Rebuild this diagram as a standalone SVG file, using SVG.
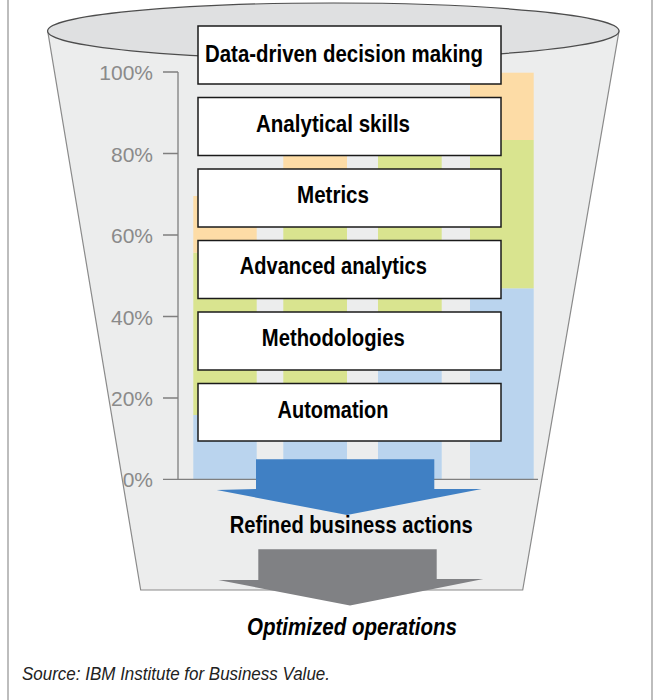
<svg xmlns="http://www.w3.org/2000/svg" width="655" height="700" viewBox="0 0 655 700">
<style>
.frame{stroke:#9a9a9a;stroke-width:1.3;fill:none}
.funnel{fill:#eceded;stroke:#8a8a8a;stroke-width:1.2}
.rim{fill:#dfe0e1;stroke:#4d4d4d;stroke-width:1.2}
.axis{stroke:#7f7f7f;stroke-width:1.3;fill:none}
.pct{font-family:"Liberation Sans",Arial,sans-serif;font-size:21px;fill:#8a8a8a;text-anchor:end}
.blue{fill:#bad4ee}
.green{fill:#d9e48f}
.orange{fill:#fddca6}
.box{fill:#ffffff;stroke:#1a1a1a;stroke-width:1.5}
.lbl{font-family:"Liberation Sans",Arial,sans-serif;font-weight:bold;font-size:23px;fill:#000;text-anchor:middle}
.src{font-family:"Liberation Sans",Arial,sans-serif;font-style:italic;font-size:19px;fill:#222}
</style>
<line class="frame" x1="8" y1="0" x2="8" y2="700"/>
<line class="frame" x1="652" y1="0" x2="652" y2="700"/>

<g id="funnel">
<polygon class="funnel" points="47.7,31 619,31 522.7,590 140.7,590"/>
<ellipse class="rim" cx="333.3" cy="31" rx="285.7" ry="28"/>
</g>

<g id="chart">
<rect class="blue" x="193.3" y="415" width="63.4" height="64.3"/>
<rect class="green" x="193.3" y="252.7" width="63.4" height="162.3"/>
<rect class="orange" x="193.3" y="196" width="63.4" height="56.7"/>
<rect class="blue" x="283.3" y="397.8" width="63.7" height="81.5"/>
<rect class="green" x="283.3" y="214.5" width="63.7" height="183.3"/>
<rect class="orange" x="283.3" y="155" width="63.7" height="59.5"/>
<rect class="blue" x="378" y="332.7" width="63.7" height="146.6"/>
<rect class="green" x="378" y="140" width="63.7" height="192.7"/>
<rect class="blue" x="470" y="288.3" width="63.7" height="191"/>
<rect class="green" x="470" y="140" width="63.7" height="148.3"/>
<rect class="orange" x="470" y="72.7" width="63.7" height="67.3"/>
<path class="axis" d="M178,72 V479.3 M163,479.3 H538 M163,72 H178 M163,153.5 H178 M163,235 H178 M163,316.5 H178 M163,398 H178"/>
<text class="pct" x="153" y="80">100%</text>
<text class="pct" x="153" y="161.5">80%</text>
<text class="pct" x="153" y="243">60%</text>
<text class="pct" x="153" y="324.5">40%</text>
<text class="pct" x="153" y="406">20%</text>
<text class="pct" x="153" y="487.3">0%</text>
</g>

<g id="n-data-driven">
<rect class="box" x="198" y="26" width="303" height="58"/>
<text class="lbl" x="344" y="62" textLength="278" lengthAdjust="spacingAndGlyphs">Data-driven decision making</text>
</g>
<g id="n-analytical-skills">
<rect class="box" x="198" y="97.5" width="303" height="58"/>
<text class="lbl" x="333" y="132" textLength="154" lengthAdjust="spacingAndGlyphs">Analytical skills</text>
</g>
<g id="n-metrics">
<rect class="box" x="198" y="169" width="303" height="58"/>
<text class="lbl" x="333" y="202.5" textLength="72" lengthAdjust="spacingAndGlyphs">Metrics</text>
</g>
<g id="n-advanced-analytics">
<rect class="box" x="198" y="240.5" width="303" height="58"/>
<text class="lbl" x="333.3" y="274" textLength="187" lengthAdjust="spacingAndGlyphs">Advanced analytics</text>
</g>
<g id="n-methodologies">
<rect class="box" x="198" y="312" width="303" height="58"/>
<text class="lbl" x="333.3" y="346" textLength="143" lengthAdjust="spacingAndGlyphs">Methodologies</text>
</g>
<g id="n-automation">
<rect class="box" x="198" y="383.5" width="303" height="57.5"/>
<text class="lbl" x="333" y="417.7" textLength="111" lengthAdjust="spacingAndGlyphs">Automation</text>
</g>

<g id="connectors">
<polygon fill="#4080c4" points="256,459.3 434.3,459.3 434.3,489 481.7,489 347,515 216.7,490 256,489"/>
<polygon fill="#808184" points="258.3,549.3 436.7,549.3 436.7,579 483.3,579 350,605.5 218.3,580 258.3,580"/>
</g>

<g id="n-refined">
<text class="lbl" x="351.3" y="533.3" textLength="243" lengthAdjust="spacingAndGlyphs">Refined business actions</text>
</g>
<g id="n-optimized">
<text class="lbl" x="352" y="635" font-style="italic" textLength="210" lengthAdjust="spacingAndGlyphs">Optimized operations</text>
</g>
<text class="src" x="22" y="680" textLength="308" lengthAdjust="spacingAndGlyphs">Source: IBM Institute for Business Value.</text>
</svg>
